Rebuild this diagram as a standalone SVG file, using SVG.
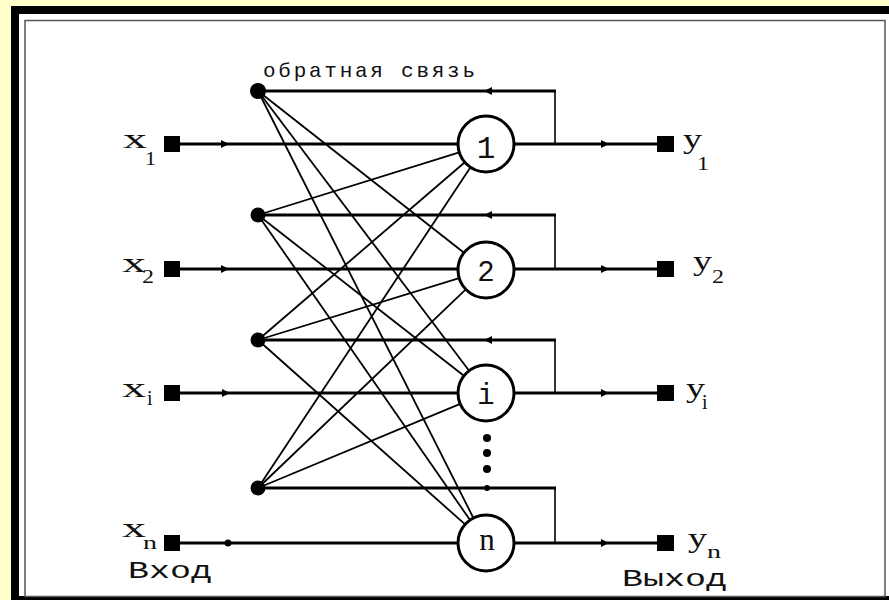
<svg xmlns="http://www.w3.org/2000/svg" width="889" height="600" viewBox="0 0 889 600">
<style>
.t{font-family:"Liberation Serif","Times New Roman",serif;fill:#111}
.m{font-family:"Liberation Mono","Courier New",monospace;fill:#111}
.thick{stroke:#000;stroke-width:3;fill:none}
.thin{stroke:#000;stroke-width:1.6;fill:none}
.diag{stroke:#000;stroke-width:1.8;fill:none}
.neuron{fill:#fff;stroke:#000;stroke-width:3}
.sq{fill:#000}
.tick{fill:#000}
</style>
<rect x="0" y="0" width="889" height="600" fill="#FFFFCC"/>
<rect x="11" y="6" width="878" height="594" fill="#000"/>
<rect x="19" y="14" width="870" height="582" fill="#fff"/>
<rect x="25" y="20.5" width="860" height="576" fill="none" stroke="#555" stroke-width="1.5"/>

<g id="connectors">
  <line class="thick" x1="180" y1="144" x2="458" y2="144"/>
  <line class="thick" x1="180" y1="269" x2="458" y2="269"/>
  <line class="thick" x1="180" y1="393" x2="458" y2="393"/>
  <line class="thick" x1="180" y1="543" x2="458" y2="543"/>
  <line class="thick" x1="514" y1="144" x2="658" y2="144"/>
  <line class="thick" x1="514" y1="269" x2="658" y2="269"/>
  <line class="thick" x1="514" y1="393" x2="658" y2="393"/>
  <line class="thick" x1="514" y1="543" x2="658" y2="543"/>
  <line class="thick" x1="258" y1="91" x2="556" y2="91"/>
  <line class="thick" x1="258" y1="215" x2="556" y2="215"/>
  <line class="thick" x1="258" y1="340" x2="556" y2="340"/>
  <line class="thick" x1="258" y1="488" x2="556" y2="488"/>
  <line class="thin" x1="555" y1="90" x2="555" y2="144"/>
  <line class="thin" x1="555" y1="214" x2="555" y2="269"/>
  <line class="thin" x1="555" y1="339" x2="555" y2="393"/>
  <line class="thin" x1="555" y1="487" x2="555" y2="543"/>
  <line class="diag" x1="258" y1="91" x2="464" y2="252.7"/>
  <line class="diag" x1="258" y1="91" x2="469.1" y2="370.7"/>
  <line class="diag" x1="258" y1="91" x2="473.4" y2="518"/>
  <line class="diag" x1="258" y1="215" x2="459.3" y2="152.3"/>
  <line class="diag" x1="258" y1="215" x2="463.9" y2="375.8"/>
  <line class="diag" x1="258" y1="215" x2="470" y2="520"/>
  <line class="diag" x1="258" y1="340" x2="464.8" y2="162.3"/>
  <line class="diag" x1="258" y1="340" x2="459.2" y2="278.2"/>
  <line class="diag" x1="258" y1="340" x2="465.1" y2="524.4"/>
  <line class="diag" x1="258" y1="488" x2="470.5" y2="167.3"/>
  <line class="diag" x1="258" y1="488" x2="465.8" y2="289.4"/>
  <line class="diag" x1="258" y1="488" x2="460.2" y2="403.8"/>
  <path class="tick" d="M221,140 L229,144 L221,148 Z"/>
  <path class="tick" d="M221,265 L229,269 L221,273 Z"/>
  <path class="tick" d="M222,389 L230,393 L222,397 Z"/>
  <circle class="tick" cx="228" cy="543" r="3.5"/>
  <path class="tick" d="M601,140 L609,144 L601,148 Z"/>
  <path class="tick" d="M601,265 L609,269 L601,273 Z"/>
  <path class="tick" d="M601,389 L609,393 L601,397 Z"/>
  <path class="tick" d="M601,539 L609,543 L601,547 Z"/>
  <path class="tick" d="M492,87 L484,91 L492,95 Z"/>
  <path class="tick" d="M492,211 L484,215 L492,219 Z"/>
  <path class="tick" d="M492,336 L484,340 L492,344 Z"/>
  <circle class="tick" cx="487" cy="488" r="3"/>
</g>

<g id="fb-label"><text class="m" x="263" y="77" font-size="21" textLength="212" lengthAdjust="spacing">обратная связь</text></g>

<g id="fb1"><circle cx="258" cy="91" r="8" fill="#000"/></g>
<g id="fb2"><circle cx="258" cy="215" r="7.5" fill="#000"/></g>
<g id="fb3"><circle cx="258" cy="340" r="7.5" fill="#000"/></g>
<g id="fb4"><circle cx="258" cy="488" r="7.5" fill="#000"/></g>

<g id="in1"><rect class="sq" x="164" y="136" width="16" height="16"/><text class="t" x="123" y="148" font-size="28" textLength="24" lengthAdjust="spacingAndGlyphs">x</text><text class="t" x="145" y="165" font-size="18" textLength="11" lengthAdjust="spacingAndGlyphs">1</text></g>
<g id="in2"><rect class="sq" x="164" y="261" width="16" height="16"/><text class="t" x="122" y="272" font-size="28" textLength="24" lengthAdjust="spacingAndGlyphs">x</text><text class="t" x="142" y="283" font-size="18" textLength="12" lengthAdjust="spacingAndGlyphs">2</text></g>
<g id="ini"><rect class="sq" x="164" y="385" width="16" height="16"/><text class="t" x="122" y="397" font-size="28" textLength="24" lengthAdjust="spacingAndGlyphs">x</text><text class="t" x="147" y="405" font-size="20">i</text></g>
<g id="inn"><rect class="sq" x="164" y="535" width="16" height="16"/><text class="t" x="122" y="537" font-size="28" textLength="24" lengthAdjust="spacingAndGlyphs">x</text><text class="t" x="143" y="549" font-size="19" textLength="14" lengthAdjust="spacingAndGlyphs">n</text>
<text class="m" x="128" y="578" font-size="24" textLength="84" lengthAdjust="spacingAndGlyphs">Вход</text></g>

<g id="n1"><circle class="neuron" cx="486" cy="144" r="28"/><text class="m" x="486" y="158" font-size="31" text-anchor="middle">1</text></g>
<g id="n2"><circle class="neuron" cx="486" cy="270" r="28"/><text class="m" x="486" y="281" font-size="29" text-anchor="middle">2</text></g>
<g id="ni"><circle class="neuron" cx="486" cy="393" r="28"/><text class="m" x="486" y="404" font-size="29" text-anchor="middle">i</text></g>
<g id="nn"><circle class="neuron" cx="486" cy="543" r="28"/><text class="t" x="487" y="550" font-size="31" text-anchor="middle">n</text></g>

<g id="dots"><circle cx="487" cy="438" r="4" fill="#000"/><circle cx="487" cy="453" r="4" fill="#000"/><circle cx="487" cy="469" r="4" fill="#000"/></g>

<g id="out1"><rect class="sq" x="657" y="136" width="17" height="16"/><text class="t" x="683" y="148" font-size="28" textLength="19" lengthAdjust="spacingAndGlyphs">y</text><text class="t" x="697" y="170" font-size="18" textLength="12" lengthAdjust="spacingAndGlyphs">1</text></g>
<g id="out2"><rect class="sq" x="657" y="261" width="17" height="16"/><text class="t" x="693" y="270" font-size="28" textLength="19" lengthAdjust="spacingAndGlyphs">y</text><text class="t" x="712" y="283" font-size="18" textLength="12" lengthAdjust="spacingAndGlyphs">2</text></g>
<g id="outi"><rect class="sq" x="657" y="385" width="17" height="16"/><text class="t" x="686" y="397" font-size="28" textLength="19" lengthAdjust="spacingAndGlyphs">y</text><text class="t" x="702" y="409" font-size="20">i</text></g>
<g id="outn"><rect class="sq" x="657" y="535" width="17" height="16"/><text class="t" x="688" y="547" font-size="28" textLength="19" lengthAdjust="spacingAndGlyphs">y</text><text class="t" x="707" y="558" font-size="19" textLength="14" lengthAdjust="spacingAndGlyphs">n</text>
<text class="m" x="622" y="586" font-size="24" textLength="105" lengthAdjust="spacingAndGlyphs">Выход</text></g>
</svg>
